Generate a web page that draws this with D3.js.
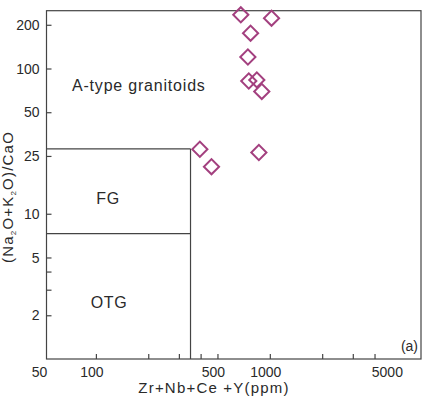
<!DOCTYPE html>
<html><head><meta charset="utf-8">
<script src="https://cdn.jsdelivr.net/npm/d3@7"></script>
<style>body{margin:0;background:#fff}text{font-family:"Liberation Sans",Arial,sans-serif;fill:#2a2a2a}</style>
</head><body>
<svg id="c" width="422" height="398"></svg>
<script>
// Data
const sampleX = [681, 1023, 775, 748, 757, 842, 899, 396, 462, 865];
const sampleY = [234, 222, 175, 120, 82, 83.5, 69.5, 27.8, 21.1, 26.4];
const xTickLabels = [50, 100, 500, 1000, 5000];
const xMinorTicks = [100, 200, 300, 400, 500, 1000, 2000, 3000, 4000];
const yTickLabels = [200, 100, 50, 25, 10, 5, 2];
const yMinorTicks = [4, 3];
const boundaryX = 350;      // Zr+Nb+Ce+Y boundary
const boundaryYTop = 28;    // A-type / FG boundary
const boundaryYMid = 7.3;   // FG / OTG boundary
const fieldNames = ["A-type granitoids", "FG", "OTG"];
const fieldX = [72, 108, 109];
const fieldY = [77, 12.8, 2.47];

const svg = d3.select("#c");
const L = 46.5, R = 421, T = 10.7, B = 359;
const x = d3.scaleLog().domain([52, 7400]).range([L, R]);
const y = d3.scaleLog().domain([1, 250]).range([B, T]);
const lineCol = "#444";

// frame
svg.append("rect").attr("x", L).attr("y", T).attr("width", R - L).attr("height", B - T)
  .attr("fill", "none").attr("stroke", lineCol).attr("stroke-width", 1.2);

// ticks (inward)
const xAxis = d3.axisBottom(x).tickValues(xMinorTicks).tickSize(-5).tickFormat("");
const gx = svg.append("g").attr("transform", `translate(0,${B})`).call(xAxis);
gx.select(".domain").remove();
gx.selectAll("line").attr("stroke", lineCol).attr("stroke-width", 1.2);

const yAxis = d3.axisLeft(y).tickValues(yTickLabels.concat(yMinorTicks)).tickSize(-5).tickFormat("");
const gy = svg.append("g").attr("transform", `translate(${L},0)`).call(yAxis);
gy.select(".domain").remove();
gy.selectAll("line").attr("stroke", lineCol).attr("stroke-width", 1.2);

// tick labels
svg.selectAll(".xl").data(xTickLabels).enter().append("text")
  .attr("x", d => x(d) - 4).attr("y", B + 18).attr("text-anchor", "middle")
  .attr("font-size", 14).text(d => d);
svg.selectAll(".yl").data(yTickLabels).enter().append("text")
  .attr("x", L - 7).attr("y", d => y(d)).attr("dy", "0.36em").attr("text-anchor", "end")
  .attr("font-size", 14).text(d => d);

// boundary lines
svg.append("line").attr("x1", L).attr("x2", x(boundaryX)).attr("y1", y(boundaryYTop)).attr("y2", y(boundaryYTop))
  .attr("stroke", lineCol).attr("stroke-width", 1.2);
svg.append("line").attr("x1", L).attr("x2", x(boundaryX)).attr("y1", y(boundaryYMid)).attr("y2", y(boundaryYMid))
  .attr("stroke", lineCol).attr("stroke-width", 1.2);
svg.append("line").attr("x1", x(boundaryX)).attr("x2", x(boundaryX)).attr("y1", y(boundaryYTop)).attr("y2", B)
  .attr("stroke", lineCol).attr("stroke-width", 1.2);

// field labels
svg.selectAll(".fl").data(fieldNames).enter().append("text")
  .attr("x", (d, i) => fieldX[i])
  .attr("y", (d, i) => y(fieldY[i]))
  .attr("dy", "0.36em").attr("text-anchor", (d, i) => i === 0 ? "start" : "middle")
  .attr("font-size", 16).attr("letter-spacing", (d, i) => i === 0 ? 0.8 : 0.6).text(d => d);

svg.append("text").attr("x", R - 3).attr("y", B - 8).attr("text-anchor", "end")
  .attr("font-size", 14).text("(a)");

// axis titles
svg.append("text").attr("x", 214).attr("y", 393).attr("text-anchor", "middle")
  .attr("font-size", 15).attr("letter-spacing", 1.2).text("Zr+Nb+Ce +Y(ppm)");
const yt = svg.append("text").attr("transform", `translate(13,197) rotate(-90)`)
  .attr("text-anchor", "middle").attr("font-size", 15).attr("letter-spacing", 1.2);
yt.append("tspan").text("(Na");
yt.append("tspan").attr("font-size", 8).attr("dy", 3).text("2");
yt.append("tspan").attr("dy", -3).text("O+K");
yt.append("tspan").attr("font-size", 8).attr("dy", 3).text("2");
yt.append("tspan").attr("dy", -3).text("O)/CaO");

// points
const pts = sampleX.map((v, i) => [v, sampleY[i]]);
const sym = d3.symbol().type(d3.symbolSquare).size(115);
svg.selectAll(".pt").data(pts).enter().append("path")
  .attr("d", sym)
  .attr("transform", d => `translate(${x(d[0])},${y(d[1])}) rotate(45)`)
  .attr("fill", "none").attr("stroke", "#a3407f").attr("stroke-width", 2);
</script>
</body></html>
